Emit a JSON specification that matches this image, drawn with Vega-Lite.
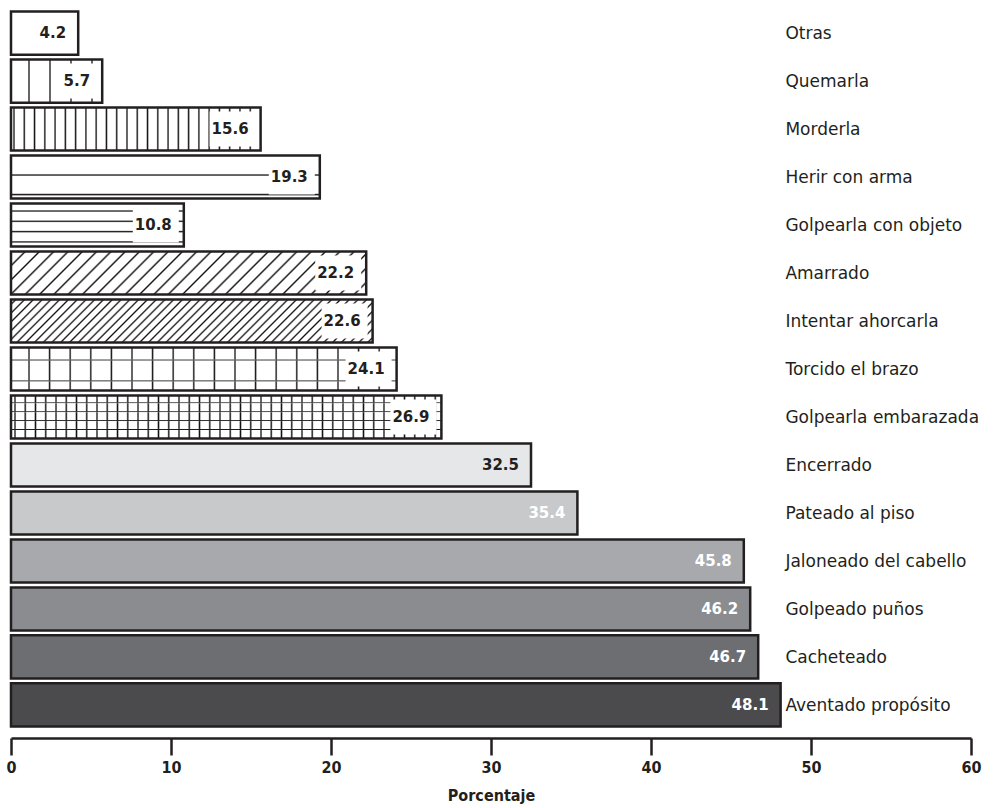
{
  "$schema": "https://vega.github.io/schema/vega-lite/v6.json",
  "width": 960,
  "height": 718,
  "autosize": "none",
  "padding": {"left": 11, "top": 10, "right": 25, "bottom": 80},
  "background": "white",
  "config": {
    "view": {"stroke": null},
    "axis": {
      "grid": false,
      "domainColor": "#231f20",
      "domainWidth": 2.5,
      "tickColor": "#231f20",
      "tickWidth": 2.5,
      "tickSize": 17,
      "labelFont": "DejaVu Sans Condensed, DejaVu Sans",
      "labelFontSize": 16,
      "labelFontWeight": "bold",
      "labelColor": "#231f20",
      "labelPadding": 4,
      "titleFont": "DejaVu Sans Condensed, DejaVu Sans",
      "titleFontSize": 16,
      "titleFontWeight": "bold",
      "titleColor": "#231f20",
      "titlePadding": 12
    }
  },
  "data": {
    "values": [
      {"categoria": "Otras", "porcentaje": 4.2},
      {"categoria": "Quemarla", "porcentaje": 5.7},
      {"categoria": "Morderla", "porcentaje": 15.6},
      {"categoria": "Herir con arma", "porcentaje": 19.3},
      {"categoria": "Golpearla con objeto", "porcentaje": 10.8},
      {"categoria": "Amarrado", "porcentaje": 22.2},
      {"categoria": "Intentar ahorcarla", "porcentaje": 22.6},
      {"categoria": "Torcido el brazo", "porcentaje": 24.1},
      {"categoria": "Golpearla embarazada", "porcentaje": 26.9},
      {"categoria": "Encerrado", "porcentaje": 32.5},
      {"categoria": "Pateado al piso", "porcentaje": 35.4},
      {"categoria": "Jaloneado del cabello", "porcentaje": 45.8},
      {"categoria": "Golpeado puños", "porcentaje": 46.2},
      {"categoria": "Cacheteado", "porcentaje": 46.7},
      {"categoria": "Aventado propósito", "porcentaje": 48.1}
    ]
  },
  "encoding": {
    "y": {
      "field": "categoria",
      "type": "nominal",
      "sort": null,
      "axis": null,
      "scale": {
        "domain": ["Otras", "Quemarla", "Morderla", "Herir con arma", "Golpearla con objeto", "Amarrado", "Intentar ahorcarla", "Torcido el brazo", "Golpearla embarazada", "Encerrado", "Pateado al piso", "Jaloneado del cabello", "Golpeado puños", "Cacheteado", "Aventado propósito"],
        "paddingInner": 0.1,
        "paddingOuter": 0.03
      }
    },
    "x": {
      "field": "porcentaje",
      "type": "quantitative",
      "title": "Porcentaje",
      "scale": {"domain": [0, 60], "nice": false},
      "axis": {"values": [0, 10, 20, 30, 40, 50, 60], "offset": 10, "labelFlush": false}
    }
  },
  "layer": [
    {
      "mark": {"type": "bar", "strokeWidth": 0},
      "encoding": {
        "color": {
          "field": "categoria",
          "type": "nominal",
          "legend": null,
          "scale": {
            "domain": ["Otras", "Quemarla", "Morderla", "Herir con arma", "Golpearla con objeto", "Amarrado", "Intentar ahorcarla", "Torcido el brazo", "Golpearla embarazada", "Encerrado", "Pateado al piso", "Jaloneado del cabello", "Golpeado puños", "Cacheteado", "Aventado propósito"],
            "range": ["#ffffff", "#ffffff", "#ffffff", "#ffffff", "#ffffff", "#ffffff", "#ffffff", "#ffffff", "#ffffff", "#e6e7e8", "#c8c9cb", "#a7a9ac", "#8a8c8f", "#6d6e71", "#4b4b4d"]
          }
        }
      }
    },
    {
      "transform": [{"filter": {"field": "categoria", "equal": "Quemarla"}}],
      "mark": {"type": "bar", "strokeWidth": 0, "fill": {"gradient": "linear", "x1": 0, "y1": 0, "x2": 1, "y2": 0, "stops": [
        {"offset":0.182,"color":"#fff"},{"offset":0.1974,"color":"#111"},{"offset":0.2128,"color":"#fff"},
        {"offset":0.4122,"color":"#fff"},{"offset":0.4276,"color":"#111"},{"offset":0.443,"color":"#fff"},
        {"offset":0.6425,"color":"#fff"},{"offset":0.6579,"color":"#111"},{"offset":0.6733,"color":"#fff"},
        {"offset":0.8728,"color":"#fff"},{"offset":0.8882,"color":"#111"},{"offset":0.9036,"color":"#fff"}
      ]}}
    },
    {
      "transform": [{"filter": {"field": "categoria", "equal": "Morderla"}}],
      "mark": {"type": "bar", "strokeWidth": 0, "fill": {"gradient": "linear", "x1": 0, "y1": 0, "x2": 1, "y2": 0, "stops": [
        {"offset":0.0064,"color":"#fff"},{"offset":0.0120,"color":"#111"},{"offset":0.0176,"color":"#fff"},
        {"offset":0.0476,"color":"#fff"},{"offset":0.0532,"color":"#111"},{"offset":0.0588,"color":"#fff"},
        {"offset":0.0887,"color":"#fff"},{"offset":0.0943,"color":"#111"},{"offset":0.0999,"color":"#fff"},
        {"offset":0.1299,"color":"#fff"},{"offset":0.1355,"color":"#111"},{"offset":0.1411,"color":"#fff"},
        {"offset":0.1710,"color":"#fff"},{"offset":0.1766,"color":"#111"},{"offset":0.1822,"color":"#fff"},
        {"offset":0.2122,"color":"#fff"},{"offset":0.2178,"color":"#111"},{"offset":0.2234,"color":"#fff"},
        {"offset":0.2533,"color":"#fff"},{"offset":0.2589,"color":"#111"},{"offset":0.2645,"color":"#fff"},
        {"offset":0.2945,"color":"#fff"},{"offset":0.3001,"color":"#111"},{"offset":0.3057,"color":"#fff"},
        {"offset":0.3356,"color":"#fff"},{"offset":0.3412,"color":"#111"},{"offset":0.3468,"color":"#fff"},
        {"offset":0.3768,"color":"#fff"},{"offset":0.3824,"color":"#111"},{"offset":0.3880,"color":"#fff"},
        {"offset":0.4179,"color":"#fff"},{"offset":0.4235,"color":"#111"},{"offset":0.4291,"color":"#fff"},
        {"offset":0.4591,"color":"#fff"},{"offset":0.4647,"color":"#111"},{"offset":0.4703,"color":"#fff"},
        {"offset":0.5002,"color":"#fff"},{"offset":0.5058,"color":"#111"},{"offset":0.5114,"color":"#fff"},
        {"offset":0.5414,"color":"#fff"},{"offset":0.5470,"color":"#111"},{"offset":0.5526,"color":"#fff"},
        {"offset":0.5825,"color":"#fff"},{"offset":0.5881,"color":"#111"},{"offset":0.5937,"color":"#fff"},
        {"offset":0.6237,"color":"#fff"},{"offset":0.6293,"color":"#111"},{"offset":0.6349,"color":"#fff"},
        {"offset":0.6648,"color":"#fff"},{"offset":0.6704,"color":"#111"},{"offset":0.6760,"color":"#fff"},
        {"offset":0.7060,"color":"#fff"},{"offset":0.7116,"color":"#111"},{"offset":0.7172,"color":"#fff"},
        {"offset":0.7471,"color":"#fff"},{"offset":0.7527,"color":"#111"},{"offset":0.7583,"color":"#fff"},
        {"offset":0.7883,"color":"#fff"},{"offset":0.7939,"color":"#111"},{"offset":0.7995,"color":"#fff"},
        {"offset":0.8294,"color":"#fff"},{"offset":0.8350,"color":"#111"},{"offset":0.8406,"color":"#fff"},
        {"offset":0.8706,"color":"#fff"},{"offset":0.8762,"color":"#111"},{"offset":0.8818,"color":"#fff"},
        {"offset":0.9117,"color":"#fff"},{"offset":0.9173,"color":"#111"},{"offset":0.9229,"color":"#fff"},
        {"offset":0.9529,"color":"#fff"},{"offset":0.9585,"color":"#111"},{"offset":0.9641,"color":"#fff"}
      ]}}
    },
    {
      "transform": [{"filter": {"field": "categoria", "equal": "Herir con arma"}}],
      "mark": {"type": "bar", "strokeWidth": 0, "fill": {"gradient": "linear", "x1": 0, "y1": 0, "x2": 0, "y2": 1, "stops": [
        {"offset":0.422,"color":"#fff"},{"offset":0.454,"color":"#111"},{"offset":0.486,"color":"#fff"},
        {"offset":0.875,"color":"#fff"},{"offset":0.907,"color":"#111"},{"offset":0.939,"color":"#fff"}
      ]}}
    },
    {
      "transform": [{"filter": {"field": "categoria", "equal": "Golpearla con objeto"}}],
      "mark": {"type": "bar", "strokeWidth": 0, "fill": {"gradient": "linear", "x1": 0, "y1": 0, "x2": 0, "y2": 1, "stops": [
        {"offset":0.146,"color":"#fff"},{"offset":0.176,"color":"#111"},{"offset":0.206,"color":"#fff"},
        {"offset":0.384,"color":"#fff"},{"offset":0.414,"color":"#111"},{"offset":0.444,"color":"#fff"},
        {"offset":0.623,"color":"#fff"},{"offset":0.653,"color":"#111"},{"offset":0.683,"color":"#fff"},
        {"offset":0.861,"color":"#fff"},{"offset":0.891,"color":"#111"},{"offset":0.921,"color":"#fff"}
      ]}}
    },
    {
      "transform": [{"filter": {"field": "categoria", "equal": "Amarrado"}}],
      "mark": {"type": "bar", "strokeWidth": 0, "fill": {"gradient": "linear", "x1": 0, "y1": 0, "x2": 1.1053, "y2": 0.1344, "stops": [
        {"offset":0.0309,"color":"#fff"},{"offset":0.0359,"color":"#111"},{"offset":0.0409,"color":"#fff"},
        {"offset":0.0668,"color":"#fff"},{"offset":0.0718,"color":"#111"},{"offset":0.0768,"color":"#fff"},
        {"offset":0.1027,"color":"#fff"},{"offset":0.1077,"color":"#111"},{"offset":0.1127,"color":"#fff"},
        {"offset":0.1386,"color":"#fff"},{"offset":0.1436,"color":"#111"},{"offset":0.1486,"color":"#fff"},
        {"offset":0.1745,"color":"#fff"},{"offset":0.1795,"color":"#111"},{"offset":0.1845,"color":"#fff"},
        {"offset":0.2104,"color":"#fff"},{"offset":0.2154,"color":"#111"},{"offset":0.2204,"color":"#fff"},
        {"offset":0.2463,"color":"#fff"},{"offset":0.2513,"color":"#111"},{"offset":0.2563,"color":"#fff"},
        {"offset":0.2822,"color":"#fff"},{"offset":0.2872,"color":"#111"},{"offset":0.2922,"color":"#fff"},
        {"offset":0.3181,"color":"#fff"},{"offset":0.3231,"color":"#111"},{"offset":0.3281,"color":"#fff"},
        {"offset":0.3540,"color":"#fff"},{"offset":0.3590,"color":"#111"},{"offset":0.3640,"color":"#fff"},
        {"offset":0.3899,"color":"#fff"},{"offset":0.3949,"color":"#111"},{"offset":0.3999,"color":"#fff"},
        {"offset":0.4258,"color":"#fff"},{"offset":0.4308,"color":"#111"},{"offset":0.4358,"color":"#fff"},
        {"offset":0.4617,"color":"#fff"},{"offset":0.4667,"color":"#111"},{"offset":0.4717,"color":"#fff"},
        {"offset":0.4976,"color":"#fff"},{"offset":0.5026,"color":"#111"},{"offset":0.5076,"color":"#fff"},
        {"offset":0.5335,"color":"#fff"},{"offset":0.5385,"color":"#111"},{"offset":0.5435,"color":"#fff"},
        {"offset":0.5694,"color":"#fff"},{"offset":0.5744,"color":"#111"},{"offset":0.5794,"color":"#fff"},
        {"offset":0.6053,"color":"#fff"},{"offset":0.6103,"color":"#111"},{"offset":0.6153,"color":"#fff"},
        {"offset":0.6412,"color":"#fff"},{"offset":0.6462,"color":"#111"},{"offset":0.6512,"color":"#fff"},
        {"offset":0.6771,"color":"#fff"},{"offset":0.6821,"color":"#111"},{"offset":0.6871,"color":"#fff"},
        {"offset":0.7130,"color":"#fff"},{"offset":0.7180,"color":"#111"},{"offset":0.7230,"color":"#fff"},
        {"offset":0.7489,"color":"#fff"},{"offset":0.7539,"color":"#111"},{"offset":0.7589,"color":"#fff"},
        {"offset":0.7848,"color":"#fff"},{"offset":0.7898,"color":"#111"},{"offset":0.7948,"color":"#fff"},
        {"offset":0.8207,"color":"#fff"},{"offset":0.8257,"color":"#111"},{"offset":0.8307,"color":"#fff"},
        {"offset":0.8566,"color":"#fff"},{"offset":0.8616,"color":"#111"},{"offset":0.8666,"color":"#fff"},
        {"offset":0.8925,"color":"#fff"},{"offset":0.8975,"color":"#111"},{"offset":0.9025,"color":"#fff"},
        {"offset":0.9284,"color":"#fff"},{"offset":0.9334,"color":"#111"},{"offset":0.9384,"color":"#fff"},
        {"offset":0.9643,"color":"#fff"},{"offset":0.9693,"color":"#111"},{"offset":0.9743,"color":"#fff"}
      ]}}
    },
    {
      "transform": [{"filter": {"field": "categoria", "equal": "Intentar ahorcarla"}}],
      "mark": {"type": "bar", "strokeWidth": 0, "fill": {"gradient": "linear", "x1": 0, "y1": 0, "x2": 1.1037, "y2": 0.1319, "stops": [
        {"offset":0.0079,"color":"#fff"},{"offset":0.0124,"color":"#111"},{"offset":0.0169,"color":"#fff"},
        {"offset":0.0296,"color":"#fff"},{"offset":0.0341,"color":"#111"},{"offset":0.0386,"color":"#fff"},
        {"offset":0.0512,"color":"#fff"},{"offset":0.0557,"color":"#111"},{"offset":0.0602,"color":"#fff"},
        {"offset":0.0729,"color":"#fff"},{"offset":0.0774,"color":"#111"},{"offset":0.0819,"color":"#fff"},
        {"offset":0.0946,"color":"#fff"},{"offset":0.0991,"color":"#111"},{"offset":0.1036,"color":"#fff"},
        {"offset":0.1163,"color":"#fff"},{"offset":0.1208,"color":"#111"},{"offset":0.1253,"color":"#fff"},
        {"offset":0.1379,"color":"#fff"},{"offset":0.1424,"color":"#111"},{"offset":0.1469,"color":"#fff"},
        {"offset":0.1596,"color":"#fff"},{"offset":0.1641,"color":"#111"},{"offset":0.1686,"color":"#fff"},
        {"offset":0.1813,"color":"#fff"},{"offset":0.1858,"color":"#111"},{"offset":0.1903,"color":"#fff"},
        {"offset":0.2029,"color":"#fff"},{"offset":0.2074,"color":"#111"},{"offset":0.2119,"color":"#fff"},
        {"offset":0.2246,"color":"#fff"},{"offset":0.2291,"color":"#111"},{"offset":0.2336,"color":"#fff"},
        {"offset":0.2463,"color":"#fff"},{"offset":0.2508,"color":"#111"},{"offset":0.2553,"color":"#fff"},
        {"offset":0.2679,"color":"#fff"},{"offset":0.2724,"color":"#111"},{"offset":0.2769,"color":"#fff"},
        {"offset":0.2896,"color":"#fff"},{"offset":0.2941,"color":"#111"},{"offset":0.2986,"color":"#fff"},
        {"offset":0.3113,"color":"#fff"},{"offset":0.3158,"color":"#111"},{"offset":0.3203,"color":"#fff"},
        {"offset":0.3330,"color":"#fff"},{"offset":0.3375,"color":"#111"},{"offset":0.3420,"color":"#fff"},
        {"offset":0.3546,"color":"#fff"},{"offset":0.3591,"color":"#111"},{"offset":0.3636,"color":"#fff"},
        {"offset":0.3763,"color":"#fff"},{"offset":0.3808,"color":"#111"},{"offset":0.3853,"color":"#fff"},
        {"offset":0.3980,"color":"#fff"},{"offset":0.4025,"color":"#111"},{"offset":0.4070,"color":"#fff"},
        {"offset":0.4196,"color":"#fff"},{"offset":0.4241,"color":"#111"},{"offset":0.4286,"color":"#fff"},
        {"offset":0.4413,"color":"#fff"},{"offset":0.4458,"color":"#111"},{"offset":0.4503,"color":"#fff"},
        {"offset":0.4630,"color":"#fff"},{"offset":0.4675,"color":"#111"},{"offset":0.4720,"color":"#fff"},
        {"offset":0.4846,"color":"#fff"},{"offset":0.4891,"color":"#111"},{"offset":0.4936,"color":"#fff"},
        {"offset":0.5063,"color":"#fff"},{"offset":0.5108,"color":"#111"},{"offset":0.5153,"color":"#fff"},
        {"offset":0.5280,"color":"#fff"},{"offset":0.5325,"color":"#111"},{"offset":0.5370,"color":"#fff"},
        {"offset":0.5497,"color":"#fff"},{"offset":0.5542,"color":"#111"},{"offset":0.5587,"color":"#fff"},
        {"offset":0.5713,"color":"#fff"},{"offset":0.5758,"color":"#111"},{"offset":0.5803,"color":"#fff"},
        {"offset":0.5930,"color":"#fff"},{"offset":0.5975,"color":"#111"},{"offset":0.6020,"color":"#fff"},
        {"offset":0.6147,"color":"#fff"},{"offset":0.6192,"color":"#111"},{"offset":0.6237,"color":"#fff"},
        {"offset":0.6363,"color":"#fff"},{"offset":0.6408,"color":"#111"},{"offset":0.6453,"color":"#fff"},
        {"offset":0.6580,"color":"#fff"},{"offset":0.6625,"color":"#111"},{"offset":0.6670,"color":"#fff"},
        {"offset":0.6797,"color":"#fff"},{"offset":0.6842,"color":"#111"},{"offset":0.6887,"color":"#fff"},
        {"offset":0.7013,"color":"#fff"},{"offset":0.7058,"color":"#111"},{"offset":0.7103,"color":"#fff"},
        {"offset":0.7230,"color":"#fff"},{"offset":0.7275,"color":"#111"},{"offset":0.7320,"color":"#fff"},
        {"offset":0.7447,"color":"#fff"},{"offset":0.7492,"color":"#111"},{"offset":0.7537,"color":"#fff"},
        {"offset":0.7664,"color":"#fff"},{"offset":0.7709,"color":"#111"},{"offset":0.7754,"color":"#fff"},
        {"offset":0.7880,"color":"#fff"},{"offset":0.7925,"color":"#111"},{"offset":0.7970,"color":"#fff"},
        {"offset":0.8097,"color":"#fff"},{"offset":0.8142,"color":"#111"},{"offset":0.8187,"color":"#fff"},
        {"offset":0.8314,"color":"#fff"},{"offset":0.8359,"color":"#111"},{"offset":0.8404,"color":"#fff"},
        {"offset":0.8530,"color":"#fff"},{"offset":0.8575,"color":"#111"},{"offset":0.8620,"color":"#fff"},
        {"offset":0.8747,"color":"#fff"},{"offset":0.8792,"color":"#111"},{"offset":0.8837,"color":"#fff"},
        {"offset":0.8964,"color":"#fff"},{"offset":0.9009,"color":"#111"},{"offset":0.9054,"color":"#fff"},
        {"offset":0.9180,"color":"#fff"},{"offset":0.9225,"color":"#111"},{"offset":0.9270,"color":"#fff"},
        {"offset":0.9397,"color":"#fff"},{"offset":0.9442,"color":"#111"},{"offset":0.9487,"color":"#fff"},
        {"offset":0.9614,"color":"#fff"},{"offset":0.9659,"color":"#111"},{"offset":0.9704,"color":"#fff"},
        {"offset":0.9831,"color":"#fff"},{"offset":0.9876,"color":"#111"},{"offset":0.9921,"color":"#fff"}
      ]}}
    },
    {
      "transform": [{"filter": {"field": "categoria", "equal": "Torcido el brazo"}}],
      "mark": {"type": "bar", "strokeWidth": 0, "fill": {"gradient": "linear", "x1": 0, "y1": 0, "x2": 1, "y2": 0, "stops": [
        {"offset":0.0431,"color":"#fff"},{"offset":0.0467,"color":"#111"},{"offset":0.0503,"color":"#fff"},
        {"offset":0.0965,"color":"#fff"},{"offset":0.1001,"color":"#111"},{"offset":0.1037,"color":"#fff"},
        {"offset":0.1499,"color":"#fff"},{"offset":0.1535,"color":"#111"},{"offset":0.1571,"color":"#fff"},
        {"offset":0.2033,"color":"#fff"},{"offset":0.2069,"color":"#111"},{"offset":0.2105,"color":"#fff"},
        {"offset":0.2568,"color":"#fff"},{"offset":0.2604,"color":"#111"},{"offset":0.2640,"color":"#fff"},
        {"offset":0.3102,"color":"#fff"},{"offset":0.3138,"color":"#111"},{"offset":0.3174,"color":"#fff"},
        {"offset":0.3636,"color":"#fff"},{"offset":0.3672,"color":"#111"},{"offset":0.3708,"color":"#fff"},
        {"offset":0.4170,"color":"#fff"},{"offset":0.4206,"color":"#111"},{"offset":0.4242,"color":"#fff"},
        {"offset":0.4704,"color":"#fff"},{"offset":0.4740,"color":"#111"},{"offset":0.4776,"color":"#fff"},
        {"offset":0.5239,"color":"#fff"},{"offset":0.5275,"color":"#111"},{"offset":0.5311,"color":"#fff"},
        {"offset":0.5773,"color":"#fff"},{"offset":0.5809,"color":"#111"},{"offset":0.5845,"color":"#fff"},
        {"offset":0.6307,"color":"#fff"},{"offset":0.6343,"color":"#111"},{"offset":0.6379,"color":"#fff"},
        {"offset":0.6841,"color":"#fff"},{"offset":0.6877,"color":"#111"},{"offset":0.6913,"color":"#fff"},
        {"offset":0.7375,"color":"#fff"},{"offset":0.7411,"color":"#111"},{"offset":0.7447,"color":"#fff"},
        {"offset":0.7910,"color":"#fff"},{"offset":0.7946,"color":"#111"},{"offset":0.7982,"color":"#fff"},
        {"offset":0.8444,"color":"#fff"},{"offset":0.8480,"color":"#111"},{"offset":0.8516,"color":"#fff"},
        {"offset":0.8978,"color":"#fff"},{"offset":0.9014,"color":"#111"},{"offset":0.9050,"color":"#fff"},
        {"offset":0.9512,"color":"#fff"},{"offset":0.9548,"color":"#111"},{"offset":0.9584,"color":"#fff"}
      ]}}
    },
    {
      "transform": [{"filter": {"field": "categoria", "equal": "Torcido el brazo"}}],
      "mark": {"type": "bar", "strokeWidth": 0, "fill": {"gradient": "linear", "x1": 0, "y1": 0, "x2": 0, "y2": 1, "stops": [
        {"offset":0.26,"color":"rgba(255,255,255,0)"},{"offset":0.292,"color":"#111"},{"offset":0.324,"color":"rgba(255,255,255,0)"},
        {"offset":0.743,"color":"rgba(255,255,255,0)"},{"offset":0.775,"color":"#111"},{"offset":0.807,"color":"rgba(255,255,255,0)"}
      ]}}
    },
    {
      "transform": [{"filter": {"field": "categoria", "equal": "Golpearla embarazada"}}],
      "mark": {"type": "bar", "strokeWidth": 0, "fill": {"gradient": "linear", "x1": 0, "y1": 0, "x2": 1, "y2": 0, "stops": [
        {"offset":0.0060,"color":"#fff"},{"offset":0.0093,"color":"#111"},{"offset":0.0126,"color":"#fff"},
        {"offset":0.0298,"color":"#fff"},{"offset":0.0331,"color":"#111"},{"offset":0.0364,"color":"#fff"},
        {"offset":0.0536,"color":"#fff"},{"offset":0.0569,"color":"#111"},{"offset":0.0602,"color":"#fff"},
        {"offset":0.0774,"color":"#fff"},{"offset":0.0807,"color":"#111"},{"offset":0.0840,"color":"#fff"},
        {"offset":0.1013,"color":"#fff"},{"offset":0.1046,"color":"#111"},{"offset":0.1079,"color":"#fff"},
        {"offset":0.1251,"color":"#fff"},{"offset":0.1284,"color":"#111"},{"offset":0.1317,"color":"#fff"},
        {"offset":0.1489,"color":"#fff"},{"offset":0.1522,"color":"#111"},{"offset":0.1555,"color":"#fff"},
        {"offset":0.1727,"color":"#fff"},{"offset":0.1760,"color":"#111"},{"offset":0.1793,"color":"#fff"},
        {"offset":0.1965,"color":"#fff"},{"offset":0.1998,"color":"#111"},{"offset":0.2031,"color":"#fff"},
        {"offset":0.2203,"color":"#fff"},{"offset":0.2236,"color":"#111"},{"offset":0.2269,"color":"#fff"},
        {"offset":0.2442,"color":"#fff"},{"offset":0.2475,"color":"#111"},{"offset":0.2508,"color":"#fff"},
        {"offset":0.2680,"color":"#fff"},{"offset":0.2713,"color":"#111"},{"offset":0.2746,"color":"#fff"},
        {"offset":0.2918,"color":"#fff"},{"offset":0.2951,"color":"#111"},{"offset":0.2984,"color":"#fff"},
        {"offset":0.3156,"color":"#fff"},{"offset":0.3189,"color":"#111"},{"offset":0.3222,"color":"#fff"},
        {"offset":0.3394,"color":"#fff"},{"offset":0.3427,"color":"#111"},{"offset":0.3460,"color":"#fff"},
        {"offset":0.3632,"color":"#fff"},{"offset":0.3665,"color":"#111"},{"offset":0.3698,"color":"#fff"},
        {"offset":0.3870,"color":"#fff"},{"offset":0.3903,"color":"#111"},{"offset":0.3936,"color":"#fff"},
        {"offset":0.4109,"color":"#fff"},{"offset":0.4142,"color":"#111"},{"offset":0.4175,"color":"#fff"},
        {"offset":0.4347,"color":"#fff"},{"offset":0.4380,"color":"#111"},{"offset":0.4413,"color":"#fff"},
        {"offset":0.4585,"color":"#fff"},{"offset":0.4618,"color":"#111"},{"offset":0.4651,"color":"#fff"},
        {"offset":0.4823,"color":"#fff"},{"offset":0.4856,"color":"#111"},{"offset":0.4889,"color":"#fff"},
        {"offset":0.5061,"color":"#fff"},{"offset":0.5094,"color":"#111"},{"offset":0.5127,"color":"#fff"},
        {"offset":0.5299,"color":"#fff"},{"offset":0.5332,"color":"#111"},{"offset":0.5365,"color":"#fff"},
        {"offset":0.5537,"color":"#fff"},{"offset":0.5570,"color":"#111"},{"offset":0.5603,"color":"#fff"},
        {"offset":0.5776,"color":"#fff"},{"offset":0.5809,"color":"#111"},{"offset":0.5842,"color":"#fff"},
        {"offset":0.6014,"color":"#fff"},{"offset":0.6047,"color":"#111"},{"offset":0.6080,"color":"#fff"},
        {"offset":0.6252,"color":"#fff"},{"offset":0.6285,"color":"#111"},{"offset":0.6318,"color":"#fff"},
        {"offset":0.6490,"color":"#fff"},{"offset":0.6523,"color":"#111"},{"offset":0.6556,"color":"#fff"},
        {"offset":0.6728,"color":"#fff"},{"offset":0.6761,"color":"#111"},{"offset":0.6794,"color":"#fff"},
        {"offset":0.6966,"color":"#fff"},{"offset":0.6999,"color":"#111"},{"offset":0.7032,"color":"#fff"},
        {"offset":0.7205,"color":"#fff"},{"offset":0.7238,"color":"#111"},{"offset":0.7271,"color":"#fff"},
        {"offset":0.7443,"color":"#fff"},{"offset":0.7476,"color":"#111"},{"offset":0.7509,"color":"#fff"},
        {"offset":0.7681,"color":"#fff"},{"offset":0.7714,"color":"#111"},{"offset":0.7747,"color":"#fff"},
        {"offset":0.7919,"color":"#fff"},{"offset":0.7952,"color":"#111"},{"offset":0.7985,"color":"#fff"},
        {"offset":0.8157,"color":"#fff"},{"offset":0.8190,"color":"#111"},{"offset":0.8223,"color":"#fff"},
        {"offset":0.8395,"color":"#fff"},{"offset":0.8428,"color":"#111"},{"offset":0.8461,"color":"#fff"},
        {"offset":0.8633,"color":"#fff"},{"offset":0.8666,"color":"#111"},{"offset":0.8699,"color":"#fff"},
        {"offset":0.8872,"color":"#fff"},{"offset":0.8905,"color":"#111"},{"offset":0.8938,"color":"#fff"},
        {"offset":0.9110,"color":"#fff"},{"offset":0.9143,"color":"#111"},{"offset":0.9176,"color":"#fff"},
        {"offset":0.9348,"color":"#fff"},{"offset":0.9381,"color":"#111"},{"offset":0.9414,"color":"#fff"},
        {"offset":0.9586,"color":"#fff"},{"offset":0.9619,"color":"#111"},{"offset":0.9652,"color":"#fff"},
        {"offset":0.9824,"color":"#fff"},{"offset":0.9857,"color":"#111"},{"offset":0.9890,"color":"#fff"}
      ]}}
    },
    {
      "transform": [{"filter": {"field": "categoria", "equal": "Golpearla embarazada"}}],
      "mark": {"type": "bar", "strokeWidth": 0, "fill": {"gradient": "linear", "x1": 0, "y1": 0, "x2": 0, "y2": 1, "stops": [
        {"offset":0.145,"color":"rgba(255,255,255,0)"},{"offset":0.17,"color":"#111"},{"offset":0.195,"color":"rgba(255,255,255,0)"},
        {"offset":0.352,"color":"rgba(255,255,255,0)"},{"offset":0.377,"color":"#111"},{"offset":0.402,"color":"rgba(255,255,255,0)"},
        {"offset":0.558,"color":"rgba(255,255,255,0)"},{"offset":0.583,"color":"#111"},{"offset":0.608,"color":"rgba(255,255,255,0)"},
        {"offset":0.764,"color":"rgba(255,255,255,0)"},{"offset":0.789,"color":"#111"},{"offset":0.814,"color":"rgba(255,255,255,0)"}
      ]}}
    },
    {
      "transform": [{"filter": {"field": "categoria", "oneOf": ["Quemarla", "Morderla", "Herir con arma", "Golpearla con objeto", "Amarrado", "Intentar ahorcarla", "Torcido el brazo", "Golpearla embarazada"]}}],
      "mark": {"type": "tick", "color": "#ffffff", "opacity": 1, "thickness": 46, "size": 35, "xOffset": -28}
    },
    {
      "mark": {"type": "bar", "filled": false, "color": "#231f20", "strokeWidth": 2.5}
    },
    {
      "mark": {"type": "text", "align": "right", "baseline": "middle", "dx": -12, "font": "DejaVu Sans", "fontSize": 15, "fontWeight": "bold"},
      "encoding": {
        "text": {"field": "porcentaje", "type": "quantitative", "format": ".1f"},
        "color": {"condition": {"test": "datum.porcentaje > 35", "value": "#ffffff"}, "value": "#231f20"}
      }
    },
    {
      "mark": {"type": "text", "align": "left", "baseline": "middle", "dy": 1, "font": "DejaVu Sans", "fontSize": 17, "color": "#231f20"},
      "encoding": {
        "x": {"datum": 48.4, "type": "quantitative", "title": "Porcentaje"},
        "text": {"field": "categoria", "type": "nominal"}
      }
    }
  ]
}
